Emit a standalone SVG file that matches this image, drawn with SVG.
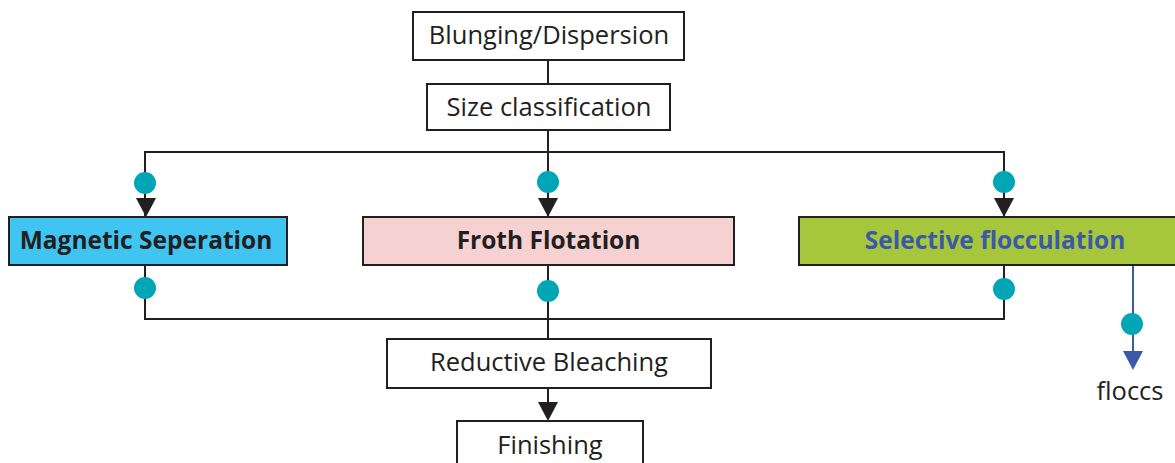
<svg xmlns="http://www.w3.org/2000/svg" width="1175" height="463" viewBox="0 0 1175 463">
<style>
.box{stroke:#231f20;stroke-width:2}
.t{font-family:"Open Sans","Noto Sans",sans-serif;font-size:25.5px;fill:#231f20;text-anchor:middle}
.b{font-weight:bold;font-size:24.5px}
.ln{fill:none;stroke:#231f20;stroke-width:2}
.dot{fill:#00a6b6}
</style>
<rect width="1175" height="463" fill="#fff"/>
<g id="connectors">
<line class="ln" x1="548" y1="60" x2="548" y2="84"/>
<polyline class="ln" points="145,217 145,152 1004,152 1004,217"/>
<line class="ln" x1="548" y1="130" x2="548" y2="217"/>
<path d="M136,198 L156,198 L146,217 Z" fill="#231f20"/>
<path d="M538,198 L558,198 L548,217 Z" fill="#231f20"/>
<path d="M994,198 L1014,198 L1004,217 Z" fill="#231f20"/>
<polyline class="ln" points="145,265 145,319 1004,319 1004,265"/>
<line class="ln" x1="548" y1="265" x2="548" y2="339"/>
<line class="ln" x1="548" y1="388" x2="548" y2="404"/>
<path d="M538,402 L558,402 L548,421 Z" fill="#231f20"/>
<line x1="1133" y1="265" x2="1133" y2="352" stroke="#3c59a7" stroke-width="2"/>
<path d="M1123,351 L1143,351 L1133,370 Z" fill="#3c59a7"/>
<circle class="dot" cx="145" cy="183" r="11"/>
<circle class="dot" cx="548" cy="182" r="11"/>
<circle class="dot" cx="1004" cy="182" r="11"/>
<circle class="dot" cx="145" cy="288" r="11"/>
<circle class="dot" cx="548" cy="291" r="11"/>
<circle class="dot" cx="1004" cy="289" r="11"/>
<circle class="dot" cx="1132" cy="324" r="11"/>
</g>
<g id="blunging">
<rect class="box" x="413" y="12" width="271" height="48" fill="#fff"/>
<text class="t" x="549" y="44">Blunging/Dispersion</text>
</g>
<g id="size">
<rect class="box" x="427" y="84" width="243" height="46" fill="#fff"/>
<text class="t" x="549" y="116">Size classification</text>
</g>
<g id="magnetic">
<rect class="box" x="9" y="217" width="278" height="48" fill="#40c4f1"/>
<text class="t b" x="146" y="249">Magnetic Seperation</text>
</g>
<g id="froth">
<rect class="box" x="363" y="217" width="371" height="48" fill="#f5d1d1"/>
<text class="t b" x="548.5" y="249">Froth Flotation</text>
</g>
<g id="selective">
<rect class="box" x="799" y="217" width="380" height="48" fill="#a6c63c"/>
<text class="t b" x="995" y="249" style="fill:#3c59a7">Selective flocculation</text>
</g>
<g id="reductive">
<rect class="box" x="387" y="339" width="324" height="49" fill="#fff"/>
<text class="t" x="549" y="371">Reductive Bleaching</text>
</g>
<g id="finishing">
<rect class="box" x="457" y="421" width="186" height="50" fill="#fff"/>
<text class="t" x="550" y="454">Finishing</text>
</g>
<g id="floccs">
<text class="t" x="1130" y="400">floccs</text>
</g>
</svg>
